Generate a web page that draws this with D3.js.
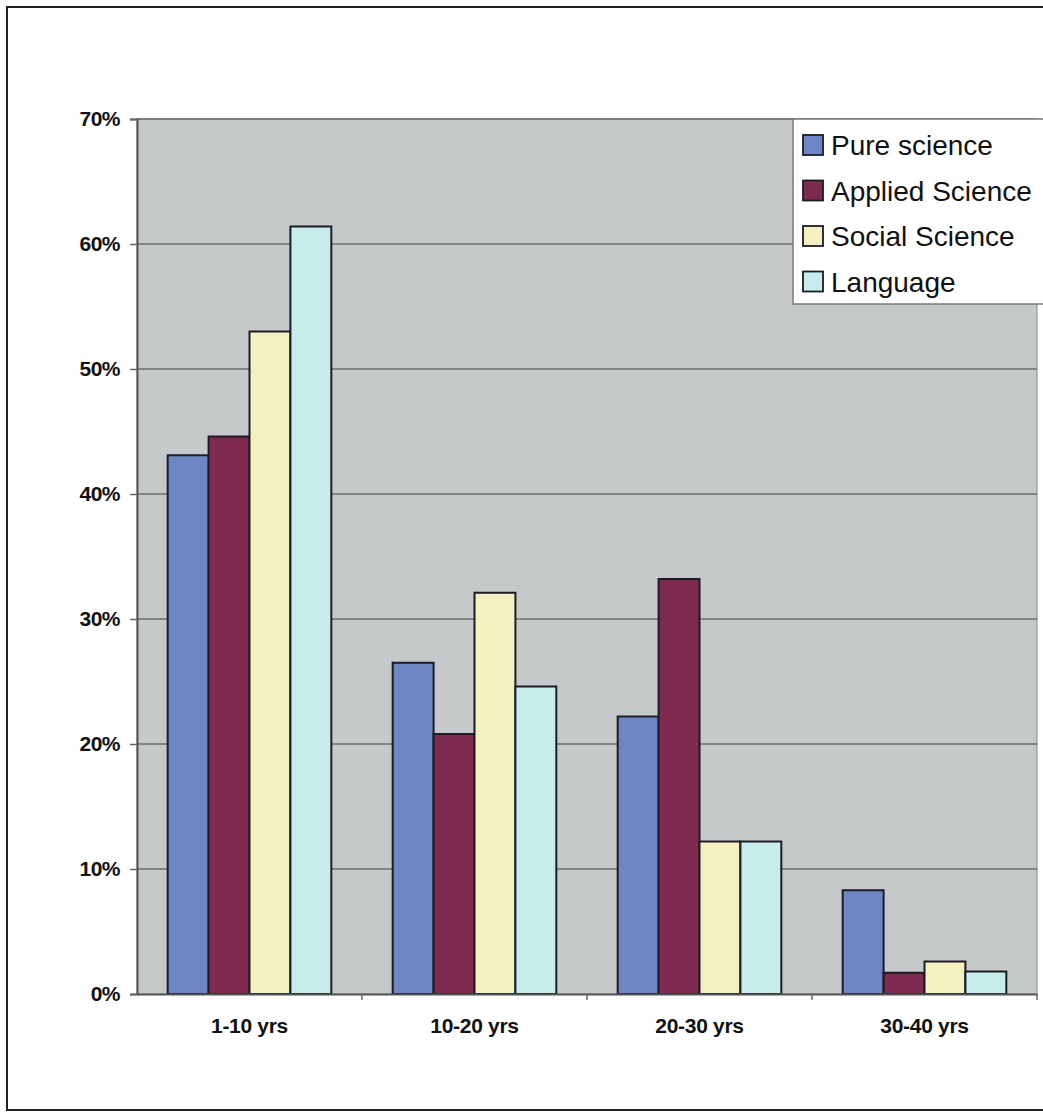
<!DOCTYPE html>
<html>
<head>
<meta charset="utf-8">
<script src="https://cdn.jsdelivr.net/npm/d3@7"></script>
<style>
  html, body { margin: 0; padding: 0; background: #fff; }
  svg { display: block; }
</style>
</head>
<body>
<svg id="chart" width="1043" height="1112"></svg>
<script>
// Share of respondents by years of experience, per discipline
const categories = ["1-10 yrs", "10-20 yrs", "20-30 yrs", "30-40 yrs"];
const seriesNames = ["Pure science", "Applied Science", "Social Science", "Language"];
const pureScience    = [0.431, 0.265, 0.222, 0.083];
const appliedScience = [0.446, 0.208, 0.332, 0.017];
const socialScience  = [0.530, 0.321, 0.122, 0.026];
const language       = [0.614, 0.246, 0.122, 0.018];
const yTicks = [0, 0.1, 0.2, 0.3, 0.4, 0.5, 0.6, 0.7];
const colors = ["#6d87c6", "#7e2b4f", "#f4f0c0", "#c6ecec"];

const seriesValues = [pureScience, appliedScience, socialScience, language];

const svg = d3.select("#chart");
const W = 1043, H = 1112;

// outer chart frame
svg.append("rect")
  .attr("x", 7).attr("y", 7).attr("width", W + 10).attr("height", H - 9)
  .attr("fill", "#fff").attr("stroke", "#222").attr("stroke-width", 2);

const plot = { left: 137, right: 1037, top: 119, bottom: 994 };

const x = d3.scaleBand()
  .domain(categories)
  .range([plot.left, plot.right]);

// Excel-style 150% gap width: bars fill 4/(4+1.5) of each band
const inner = d3.scaleBand()
  .domain(seriesNames)
  .range([0, x.bandwidth()])
  .paddingInner(0)
  .paddingOuter(0.75);

const y = d3.scaleLinear().domain([0, 0.7]).range([plot.bottom, plot.top]);

// plot area
svg.append("rect")
  .attr("x", plot.left).attr("y", plot.top)
  .attr("width", plot.right - plot.left).attr("height", plot.bottom - plot.top)
  .attr("fill", "#c5c9c9")
  .attr("stroke", "#8a8a8a").attr("stroke-width", 1);

// gridlines
svg.append("g")
  .selectAll("line")
  .data(yTicks.filter(d => d > 0))
  .join("line")
  .attr("x1", plot.left).attr("x2", plot.right)
  .attr("y1", d => y(d)).attr("y2", d => y(d))
  .attr("stroke", "#6c6c6c").attr("stroke-width", 1.5);

// bars
const groups = svg.append("g")
  .selectAll("g")
  .data(categories)
  .join("g")
  .attr("transform", c => `translate(${x(c)},0)`);

groups.selectAll("rect")
  .data((c, i) => seriesNames.map((s, j) => ({ s, v: seriesValues[j][i], j })))
  .join("rect")
  .attr("x", d => inner(d.s))
  .attr("y", d => y(d.v))
  .attr("width", inner.bandwidth())
  .attr("height", d => y(0) - y(d.v))
  .attr("fill", d => colors[d.j])
  .attr("stroke", "#1c1c24").attr("stroke-width", 2);

// y axis
const yAxis = d3.axisLeft(y)
  .tickValues(yTicks)
  .tickFormat(d3.format(".0%"))
  .tickSize(7)
  .tickPadding(10);

const yg = svg.append("g")
  .attr("transform", `translate(${plot.left},0)`)
  .call(yAxis);
yg.select(".domain").attr("stroke", "#555").attr("stroke-width", 2);
yg.selectAll(".tick line").attr("stroke", "#666").attr("stroke-width", 1.5);
yg.selectAll(".tick text")
  .attr("font-family", "Liberation Sans, Arial, sans-serif")
  .attr("font-weight", "bold")
  .attr("font-size", 21)
  .attr("letter-spacing", "-0.5")
  .attr("fill", "#111");

// x axis
const xAxis = d3.axisBottom(x).tickSize(0).tickPadding(24);
const xg = svg.append("g")
  .attr("transform", `translate(0,${plot.bottom})`)
  .call(xAxis);
xg.select(".domain").attr("stroke", "#555").attr("stroke-width", 2);
xg.selectAll(".tick text")
  .attr("font-family", "Liberation Sans, Arial, sans-serif")
  .attr("font-weight", "bold")
  .attr("font-size", 21)
  .attr("letter-spacing", "-0.3")
  .attr("fill", "#111");

// category separator ticks
svg.append("g")
  .selectAll("line")
  .data(categories)
  .join("line")
  .attr("x1", d => x(d) + x.bandwidth())
  .attr("x2", d => x(d) + x.bandwidth())
  .attr("y1", plot.bottom).attr("y2", plot.bottom + 6)
  .attr("stroke", "#666").attr("stroke-width", 1.5);

// legend
const legend = svg.append("g").attr("transform", "translate(793,119)");
legend.append("rect")
  .attr("x", 0).attr("y", 0).attr("width", 260).attr("height", 185)
  .attr("fill", "#fff").attr("stroke", "#7a7a7a").attr("stroke-width", 1.5);

const items = legend.selectAll("g.item")
  .data(seriesNames)
  .join("g")
  .attr("class", "item")
  .attr("transform", (d, i) => `translate(10,${26 + i * 45.5})`);

items.append("rect")
  .attr("x", 0).attr("y", -10).attr("width", 20).attr("height", 20)
  .attr("fill", (d, i) => colors[i])
  .attr("stroke", "#1c1c24").attr("stroke-width", 1.8);

items.append("text")
  .attr("x", 28).attr("y", 0)
  .attr("dy", "0.36em")
  .attr("font-family", "Liberation Sans, Arial, sans-serif")
  .attr("font-size", 28)
  .attr("fill", "#111")
  .text(d => d);
</script>
</body>
</html>
